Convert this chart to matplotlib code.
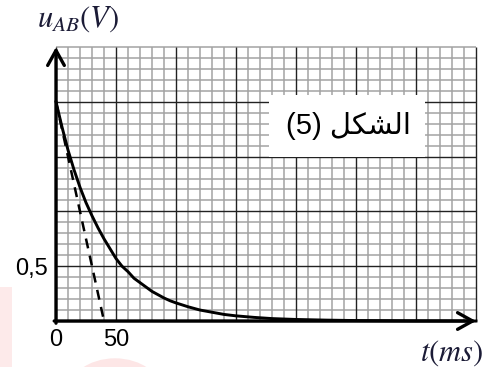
import matplotlib.pyplot as plt
from matplotlib.patches import Rectangle, Circle

# discharge of the capacitor, u_AB in volts, t in ms
t_ms = [0, 5, 10, 15, 20, 25, 30, 35, 40, 45, 50, 55, 60, 65, 70, 75, 80,
        85, 90, 95, 100, 110, 120, 130, 140, 150, 165, 180, 200, 225, 250,
        300, 350]
u_ab = [2.00, 1.77, 1.56, 1.38, 1.22, 1.08, 0.96, 0.85, 0.75, 0.66, 0.57,
        0.50, 0.45, 0.39, 0.35, 0.31, 0.27, 0.24, 0.21, 0.185, 0.165, 0.13,
        0.10, 0.08, 0.06, 0.047, 0.033, 0.022, 0.014, 0.008, 0.004, 0.001,
        0.0]

# tangent at t = 0
tan_t = [0, 40]
tan_u = [2.0, 0.0]

x_ticks = [0, 50]
x_labels = ['0', '50']
y_ticks = [0.5]
y_labels = ['0,5']

t_max = 350
u_max = 2.5

plt.rcParams['mathtext.fontset'] = 'stix'

fig = plt.figure(figsize=(4.85, 3.67), dpi=100)
ax = fig.add_axes([56 / 485, 1 - 321 / 367, 420 / 485, 274 / 367])
ax.set_xlim(0, t_max)
ax.set_ylim(0, u_max)
for s in ax.spines.values():
    s.set_visible(False)

# millimetre paper: minor every 10 ms / 0.1 V, major every 50 ms / 0.5 V
for i in range(0, 36):
    x = i * 10
    major = i % 5 == 0
    ax.vlines(x, 0, u_max, colors='#222222' if major else '#a3a3a3',
              lw=1.0 if major else 1.1, zorder=1 if major else 0, clip_on=False)
for j in range(0, 26):
    y = j * 0.1
    major = j % 5 == 0 and j != 25
    ax.hlines(y, 0, t_max, colors='#222222' if major else '#a3a3a3',
              lw=1.0 if major else 1.1, zorder=1 if major else 0, clip_on=False)

ax.plot(t_ms, u_ab, color='black', lw=2.1, zorder=3, clip_on=False,
        solid_joinstyle='round')
ax.plot(tan_t, tan_u, color='black', lw=1.8, ls=(0, (4, 3)), zorder=3)

# axes with arrow heads
arrow = dict(arrowstyle='->,head_length=0.45,head_width=0.25', lw=2.4,
             color='black', shrinkA=0, shrinkB=0, mutation_scale=24)
ax.annotate('', xy=(0, u_max), xytext=(0, -0.02), arrowprops=arrow,
            annotation_clip=False, zorder=4)
ax.annotate('', xy=(t_max, 0), xytext=(-1.5, 0), arrowprops=arrow,
            annotation_clip=False, zorder=4)

ax.set_xticks(x_ticks, x_labels)
ax.set_yticks(y_ticks, y_labels)
ax.tick_params(length=0, labelsize=17, pad=6)
for lab in ax.get_xticklabels() + ax.get_yticklabels():
    lab.set_fontfamily('Liberation Sans')

# figure caption on a white card
ax.add_patch(Rectangle((177.5, 1.496), 130, 0.566, facecolor='white',
                       edgecolor='none', zorder=2))
ax.text(243.5, 1.78, '(5) \ufede\ufedc\ufeb8\ufedf\ufe8d', ha='center', va='center',
        fontsize=21, family=['Liberation Sans', 'DejaVu Sans'], zorder=5)

fig.text(37 / 485, 1 - 19 / 367, r'$u_{AB}(V)$', ha='left', va='center',
         fontsize=22, color='#1b1b36')
fig.text(483 / 485, 1 - 353 / 367, r'$t(ms)$', ha='right', va='center',
         fontsize=22, color='#1b1b36')

# faint pink stamp along the lower edge
fig.patches.append(Circle((115 / 485, 1 - 395 / 367), 0.1, transform=fig.transFigure,
                          facecolor='#fde6e6', edgecolor='none', zorder=-1))
fig.patches.append(Rectangle((0, 0), 12 / 485, 80 / 367, transform=fig.transFigure,
                             facecolor='#fdeaea', edgecolor='none', zorder=-1))

fig.savefig('out.png', dpi=100)
